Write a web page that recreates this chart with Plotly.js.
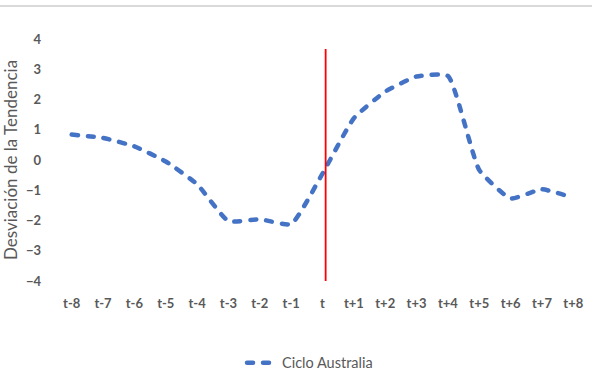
<!DOCTYPE html>
<html>
<head>
<meta charset="utf-8">
<script src="https://cdn.plot.ly/plotly-3.0.1.min.js"></script>
<style>
html,body{margin:0;padding:0;background:#fff;}
#chart{width:592px;height:374px;}
.scatterlayer .js-line, .legendlines path{stroke-linecap:round;}
</style>
</head>
<body>
<div id="chart"></div>
<script>
const categories = ["t-8","t-7","t-6","t-5","t-4","t-3","t-2","t-1","t","t+1","t+2","t+3","t+4","t+5","t+6","t+7","t+8"];
const cicloAustralia = [0.84, 0.73, 0.45, -0.05, -0.8, -2.02, -1.96, -2.12, -0.45, 1.38, 2.26, 2.76, 2.78, -0.33, -1.27, -0.97, -1.25];
const yTicks = [-4, -3, -2, -1, 0, 1, 2, 3, 4];
const seriesName = "Ciclo Australia";
const yTitle = "Desviación de la Tendencia";
const markerCategory = "t";

const grey = "#595959";
const trace = {
  x: categories,
  y: cicloAustralia,
  type: "scatter",
  mode: "lines",
  name: seriesName,
  line: {color: "#4472C4", width: 4.5, dash: "6px,10px", shape: "spline", smoothing: 0.45},
  cliponaxis: false
};

const mi = categories.indexOf(markerCategory);

const layout = {
  width: 592, height: 374,
  margin: {l: 56, r: 3, t: 39, b: 93, autoexpand: false},
  paper_bgcolor: "#ffffff",
  plot_bgcolor: "#ffffff",
  font: {family: "Lato, 'Open Sans', sans-serif", color: grey},
  showlegend: true,
  legend: {orientation: "h", x: 0.349, xanchor: "left", y: -0.338, yanchor: "middle",
           font: {size: 14.5, color: grey, family: "Lato, sans-serif"}},
  xaxis: {
    type: "category",
    range: [-0.5, categories.length - 0.5],
    showgrid: false, zeroline: false, showline: false, ticks: "",
    tickfont: {size: 13, color: grey, family: "Lato, sans-serif", weight: "bold"},
    ticklabelstandoff: 13,
    automargin: false,
    fixedrange: true
  },
  yaxis: {
    range: [-4, 4],
    tickvals: yTicks,
    showgrid: false, zeroline: false, showline: false, ticks: "",
    tickfont: {size: 13, color: grey, family: "Lato, sans-serif", weight: "bold"},
    ticklabelstandoff: 14,
    automargin: false,
    title: {text: yTitle, font: {size: 17, color: grey, family: "Lato, sans-serif"}, standoff: 8},
    fixedrange: true
  },
  shapes: [
    {type: "line", xref: "x", yref: "y", x0: mi + 0.1, x1: mi + 0.1, y0: -4.07, y1: 3.67,
     line: {color: "#FF0000", width: 1.8}},
    {type: "line", xref: "paper", yref: "paper", x0: -0.2, x1: 1.1, y0: 1.136, y1: 1.136,
     line: {color: "#D9D9D9", width: 2}}
  ]
};

Plotly.newPlot("chart", [trace], layout, {displayModeBar: false, staticPlot: true});
</script>
</body>
</html>
